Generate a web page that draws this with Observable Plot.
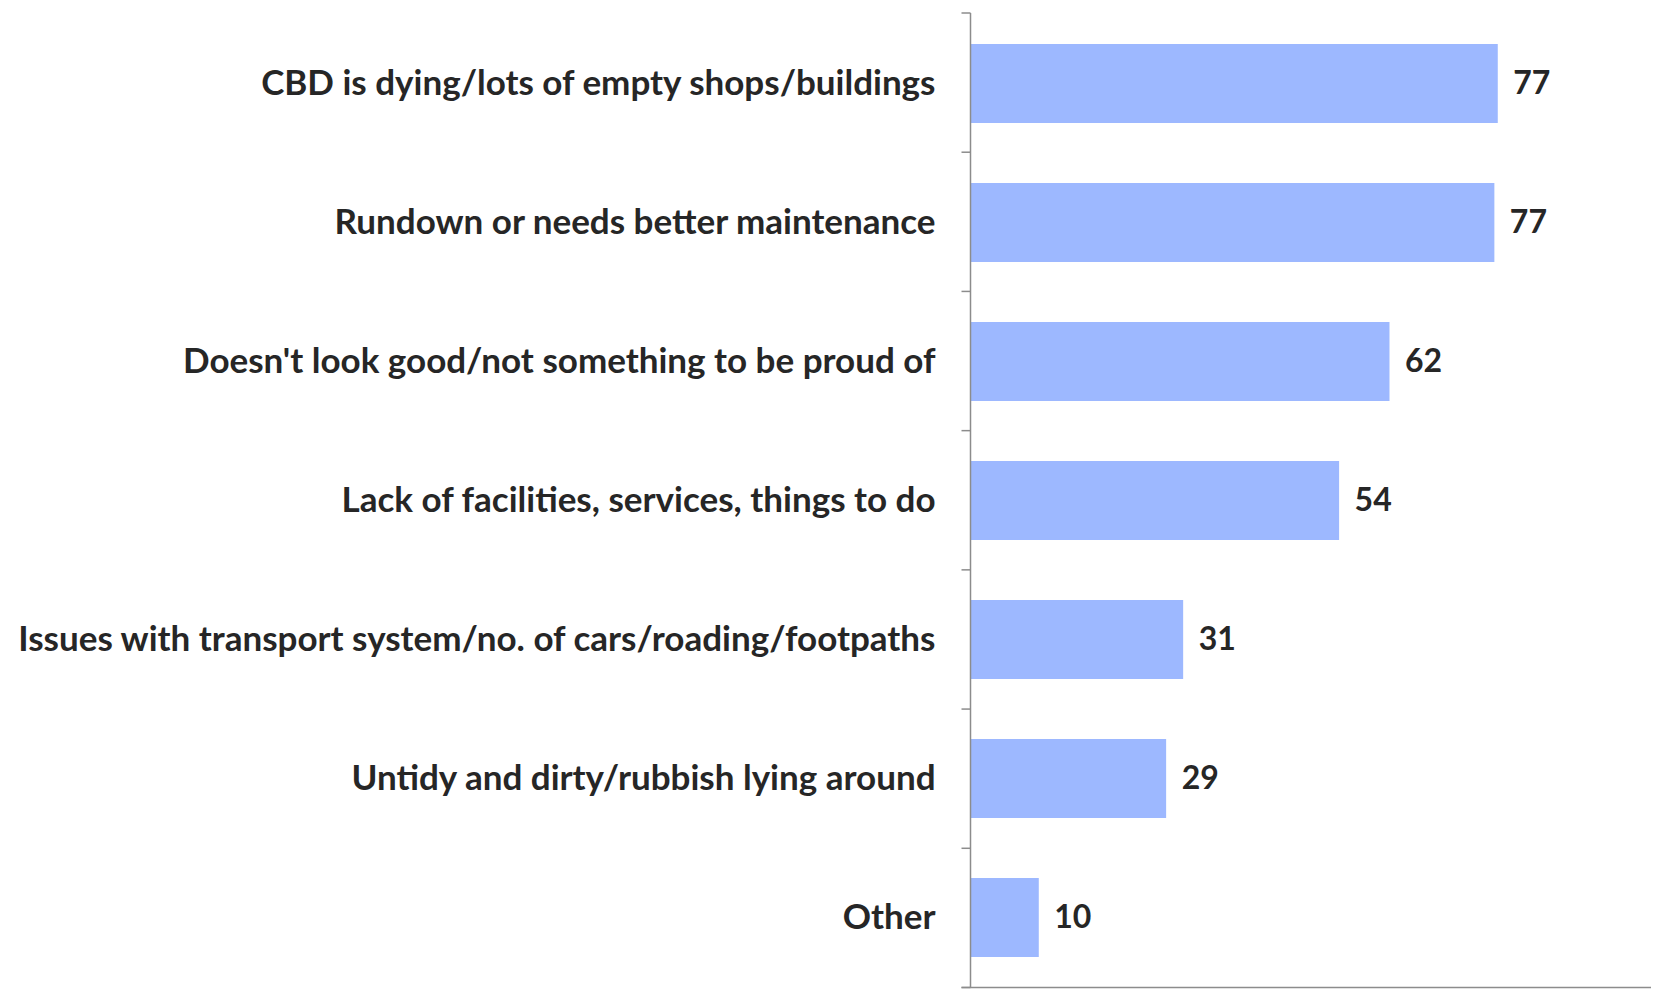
<!DOCTYPE html>
<html>
<head>
<meta charset="utf-8">
<script src="https://cdn.jsdelivr.net/npm/d3@7"></script>
<script src="https://cdn.jsdelivr.net/npm/@observablehq/plot@0.6"></script>
<style>
  html, body { margin: 0; padding: 0; background: #ffffff; }
  #chart svg { display: block; }
</style>
</head>
<body>
<div id="chart"></div>
<script>
const categories = [
  "CBD is dying/lots of empty shops/buildings",
  "Rundown or needs better maintenance",
  "Doesn't look good/not something to be proud of",
  "Lack of facilities, services, things to do",
  "Issues with transport system/no. of cars/roading/footpaths",
  "Untidy and dirty/rubbish lying around",
  "Other"
];
const values = [77.5, 77.0, 61.6, 54.2, 31.3, 28.8, 10.1];
const valueLabels = ["77", "77", "62", "54", "31", "29", "10"];

const data = categories.map((c, i) => ({category: c, value: values[i], label: valueLabels[i]}));

function axisLines(index, scales, vals, dims) {
  const g = d3.create("svg:g").attr("stroke", "#8c8c8c").attr("stroke-width", 1.5).attr("fill", "none");
  const x0 = Math.round(scales.x(0)) + 0.5;
  const top = dims.marginTop;
  const bottom = dims.height - dims.marginBottom;
  const right = dims.width - dims.marginRight;
  const n = categories.length;
  const step = (bottom - top) / n;
  g.append("line").attr("x1", x0).attr("x2", x0).attr("y1", top).attr("y2", bottom);
  for (let i = 0; i <= n; i++) {
    const y = top + i * step;
    g.append("line").attr("x1", x0 - 9).attr("x2", x0).attr("y1", y).attr("y2", y);
  }
  g.append("line").attr("x1", x0 - 9).attr("x2", right).attr("y1", bottom).attr("y2", bottom);
  return g.node();
}

const chart = Plot.plot({
  width: 1675,
  height: 989,
  marginLeft: 970,
  marginRight: 24,
  marginTop: 13,
  marginBottom: 1.5,
  style: {
    fontFamily: "Lato, 'Open Sans', sans-serif",
    fontSize: "35px",
    fontWeight: "bold",
    color: "#262626",
    background: "#ffffff",
    overflow: "visible"
  },
  x: {domain: [0, 100], axis: null},
  y: {domain: categories, paddingInner: 0.43, paddingOuter: 0.215, axis: null},
  marks: [
    Plot.barX(data, {x: "value", y: "category", fill: "#9db8ff"}),
    Plot.axisY({tickSize: 0, tickPadding: 35, label: null, fontSize: 35, fontWeight: "bold", fill: "#262626"}),
    Plot.text(data, {x: "value", y: "category", text: "label", dx: 15, textAnchor: "start", fontSize: 32, fontWeight: "bold", fill: "#262626"}),
    axisLines
  ]
});
document.getElementById("chart").appendChild(chart);
</script>
</body>
</html>
